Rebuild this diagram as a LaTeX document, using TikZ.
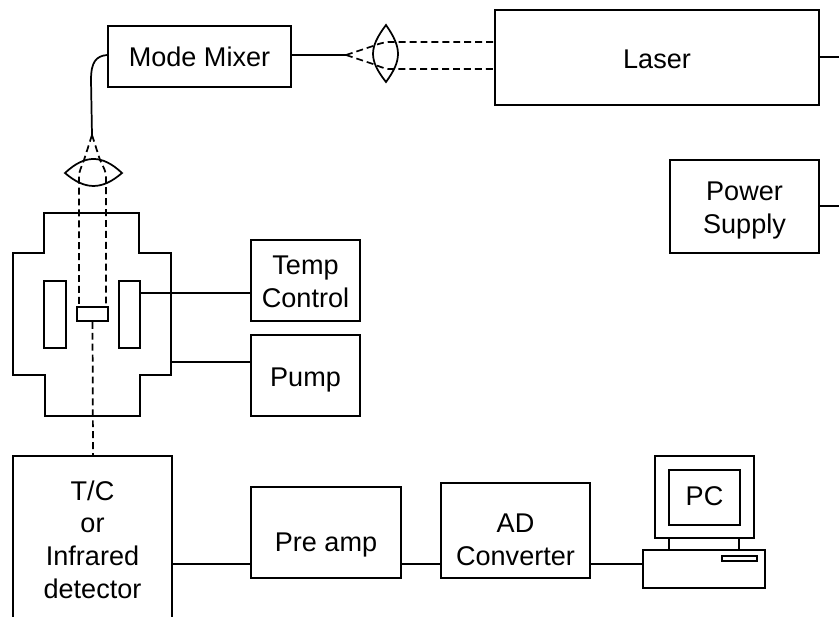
\documentclass[tikz,border=0pt]{standalone}
\usepackage{fontspec}
\setmainfont{Liberation Sans}
% name, x1, y1, x2, y2, drop of the last baseline below centre (px), text
\newcommand{\txt}[2]{\raisebox{-0.75\dimexpr #1pt\relax}[0pt][0pt]{\begin{tabular}[b]{@{}c@{}}#2\end{tabular}}}
\newcommand{\bx}[7]{\node[boxnode,minimum width={(#4-#2)*0.75pt},minimum height={(#5-#3)*0.75pt}] (#1) at ({(#2+#4)/2},{(#3+#5)/2}) {\txt{#6}{#7}};}
\tikzset{
  boxnode/.style={draw,line width=1.3pt,inner sep=0pt,font=\fontsize{20.3}{24.4}\selectfont},
  wire/.style={line width=1.3pt},
  shape line/.style={line width=1.3pt,line join=miter},
  beam/.style={line width=1.3pt,dash pattern=on 5.2pt off 3pt},
}
\begin{document}
\begin{tikzpicture}[x=0.75pt,y=-0.75pt]
\useasboundingbox (0,0) rectangle (839,617);
% boxes
\bx{mixer}{108}{26}{291}{87}{10.5}{Mode Mixer}
\bx{laser}{495}{10}{819}{105}{11.5}{Laser}
\bx{power}{670}{160}{819}{253}{26.8}{Power\\Supply}
\bx{temp}{251}{240}{360}{321}{26.8}{Temp\\Control}
\bx{pump}{251}{335}{360}{416}{11}{Pump}
\bx{pre}{251}{487}{401}{578}{18.5}{Pre amp}
\bx{adc}{441}{483}{590}{578}{34.5}{AD\\Converter}
\bx{heatl}{44}{281}{66}{348}{0}{}
\bx{heatr}{119}{281}{140}{348}{0}{}
\bx{sample}{77}{307}{108}{321}{0}{}
% free ends
\coordinate (laserout) at (839,57);
\coordinate (powerout) at (839,206);
\coordinate (mixfocus) at (346,55);
\coordinate (beamt) at (388,42);
\coordinate (beamb) at (388,69);
\coordinate (fibreend) at (92,135);
\coordinate (vl) at (79,176);
\coordinate (vr) at (106,176);
% chamber
\draw[shape line] (44,213) -- (139,213) -- (139,253) -- (171,253) -- (171,375) -- (140,375) -- (140,416) -- (45,416) -- (45,375) -- (13,375) -- (13,253) -- (44,253) -- cycle;
% detector box, open at the bottom
\draw[shape line] (13,617) -- (13,456) -- (172,456) -- (172,617);
\coordinate (tcin) at (93,456);
\coordinate (tcout) at (172,564);
\coordinate (chamberport) at (171,362);
% lenses
\draw[shape line] (386,25) .. controls (368.7,48) and (368.7,60) .. (386,82) .. controls (402,60) and (402,48) .. (386,25) -- cycle;
\draw[shape line] (65,173) .. controls (85,154.3) and (102,154.3) .. (122,173) .. controls (102,190.3) and (85,190.3) .. (65,173) -- cycle;
% connectors
\draw[wire] (laser.east |- laserout) -- (laserout);
\draw[wire] (power.east |- powerout) -- (powerout);
\draw[wire] (mixer.east |- mixfocus) -- (mixfocus);
\draw[wire] (mixer.west |- 0,55) .. controls (96,56) and (91,62) .. (91,80) -- (fibreend);
\draw[wire] (heatr.east |- 0,293) -- (temp.west |- 0,293);
\draw[wire] (chamberport) -- (pump.west |- chamberport);
\draw[wire] (tcout) -- (pre.west |- tcout);
\draw[wire] (pre.east |- 0,564) -- (adc.west |- 0,564);
\coordinate (pcin) at (643,564);
\draw[wire] (adc.east |- pcin) -- (pcin);
% beams
\draw[beam] (mixfocus) -- (373,46) .. controls (378,44) and (383,42.5) .. (388,42) -- (laser.west |- beamt);
\draw[beam] (mixfocus) -- (373,64) .. controls (378,66) and (383,68) .. (388,69) -- (laser.west |- beamb);
\draw[beam] (fibreend) -- (84,160) .. controls (81,168) and (79,172) .. (79,176) -- (sample.north -| vl);
\draw[beam] (fibreend) -- (100,160) .. controls (104,168) and (106,172) .. (106,176) -- (sample.north -| vr);
\draw[beam] (sample.south) -- (tcin);
% PC
\node[boxnode,minimum width={71*0.75pt},minimum height={55*0.75pt}] (screen) at (704.5,497.5) {\txt{8.2}{PC}};
\draw[shape line] (655,456) rectangle (754,538);
\draw[shape line] (669,538) -- (669,550) (739,538) -- (739,550);
\draw[shape line] (643,550) rectangle (765,588);
\draw[shape line] (722,556) rectangle (757,561);
% detector text
\node[inner sep=0pt,font=\fontsize{20.3}{24.5}\selectfont] (tc) at (92.5,541) {\txt{57}{T/C\\or\\Infrared\hspace{9pt}\\detector}};
\end{tikzpicture}
\end{document}
